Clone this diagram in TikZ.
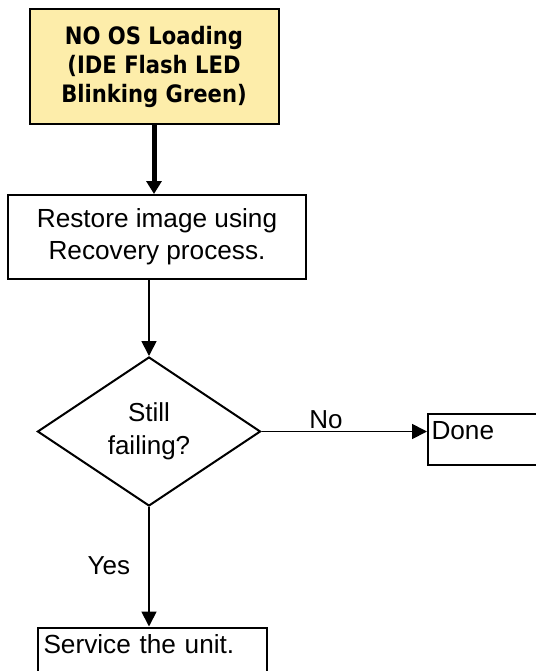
\documentclass[tikz,border=0pt]{standalone}
\usepackage{fontspec}
\setmainfont{Liberation Sans}
\newfontfamily\headfont[FakeStretch=0.88]{DejaVu Sans}
\usetikzlibrary{shapes.geometric,arrows.meta,calc,positioning}
\definecolor{startyellow}{RGB}{253,237,170}
\tikzset{
  basebox/.style={draw, line width=1pt, rectangle, inner sep=0pt, align=center},
  startbox/.style={basebox, fill=startyellow,
    font=\headfont\bfseries\fontsize{12}{14.5}\selectfont},
  procbox/.style={basebox, font=\fontsize{13.1}{16}\selectfont},
  decision/.style={draw, line width=1pt, diamond, inner sep=0pt, align=center,
    font=\fontsize{13}{16.5}\selectfont},
  endbox/.style={draw, line width=1pt, rectangle, inner ysep=3.3pt, align=left,
    text height=9.5pt, font=\fontsize{13.1}{16}\selectfont},
  heavyarrow/.style={line width=2.5pt, -{Triangle[length=6.5pt,width=7.5pt]}},
  flowarrow/.style={line width=0.9pt, -{Triangle[length=7.5pt,width=7.5pt]}},
  flowlabel/.style={font=\fontsize{13}{16}\selectfont, inner sep=1pt}
}
\begin{document}
\begin{tikzpicture}[x=0.5pt,y=-0.5pt]
  \useasboundingbox (0,0) rectangle (536,671);
  \clip (0,0) rectangle (536,671);
  % boxes
  \node[startbox, minimum width=124.5pt, minimum height=57.5pt] (start) at (154,66.5)
    {NO OS Loading\\(IDE Flash LED\\Blinking Green)};
  \node[procbox, minimum width=149pt, minimum height=42pt] (restore) at (157,237)
    {Restore image using\\Recovery process.};
  \node[decision, minimum width=111.5pt, minimum height=74.5pt] (fail) at (149,431.5)
    {Still\\failing?};
  \node[endbox, anchor=north west, inner xsep=1.75pt, text width=61.5pt,
    text depth=9.7pt] (done) at (427,412.5) {Done};
  \node[endbox, anchor=north west, inner xsep=2.75pt, text width=109pt,
    text depth=20pt] (service) at (37,626.5) {Service the unit.};
  % connectors
  \draw[heavyarrow] (start.south) -- (start.south |- restore.north);
  \draw[flowarrow] (fail.north |- restore.south) -- (fail.north);
  \draw[flowarrow] (fail.east) -- node[flowlabel, pos=0.39, above] {No}
    (fail.east -| done.west);
  \draw[flowarrow] (fail.south) -- node[flowlabel, pos=0.49, left=8pt] {Yes}
    (fail.south |- service.north);
\end{tikzpicture}
\end{document}
